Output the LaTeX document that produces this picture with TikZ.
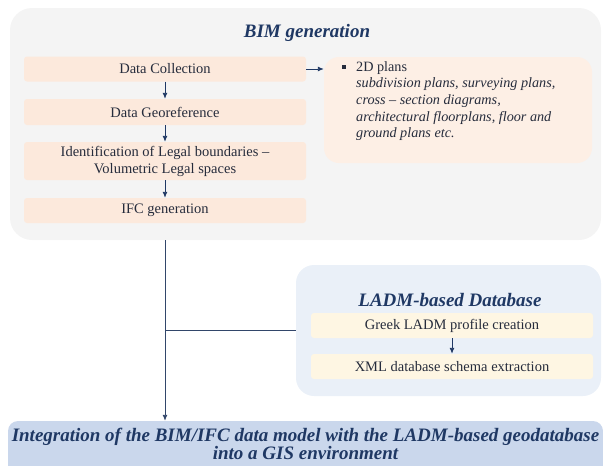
\documentclass[tikz,border=0pt]{standalone}
\usepackage{fontspec}
\setmainfont{Liberation Serif}
\usepackage{tikz}
\usetikzlibrary{arrows.meta, positioning, calc}
\definecolor{navy}{HTML}{1F3864}
\definecolor{ink}{HTML}{262C3C}
\definecolor{panelgrey}{HTML}{F4F4F4}
\definecolor{peach}{HTML}{FCE9DC}
\definecolor{lightpeach}{HTML}{FDEFE5}
\definecolor{paleblue}{HTML}{EAF0F8}
\definecolor{cream}{HTML}{FEF6E3}
\definecolor{midblue}{HTML}{CAD7EC}
\tikzset{
    panel/.style = {draw=none, inner sep=0pt}, % big rounded background boxes
    stepbox/.style = {fill=peach, rounded corners=3pt, minimum width=282pt, align=center, text=ink, font=\fontsize{14.5}{17}\selectfont},
    dbbox/.style = {stepbox, fill=cream},
    title/.style = {text=navy, font=\fontsize{19}{20}\bfseries\itshape\selectfont},
    arr/.style = {-{Latex[length=6pt,width=5pt]}, navy, line width=0.9pt},
    link/.style = {draw=navy!80!gray, line width=0.9pt}
}
\begin{document}
\begin{tikzpicture}[x=1pt, y=-1pt]
    \useasboundingbox (0,0) rectangle (603,466);
    % BIM generation part
    \node (bim) [panel, fill=panelgrey, rounded corners=22pt, minimum width=591pt, minimum height=232pt] at (305.5,124) {};
    \node (bimtitle) [title] at (307,33) {BIM generation};
    \node (collect) [stepbox, minimum height=25pt] at (165,69) {Data Collection};
    \node (georef) [stepbox, minimum height=26pt] at (165,112) {Data Georeference};
    \node (legal) [stepbox, minimum height=38pt] at (165,161) {Identification of Legal boundaries --\\Volumetric Legal spaces};
    \node (ifc) [stepbox, minimum height=25pt] at (165,210.5) {IFC generation};
    \draw [arr] (collect) -- (georef);
    \draw [arr] (georef) -- (legal);
    \draw [arr] (legal) -- (ifc);
    % 2D plans
    \node (plans) [panel, fill=lightpeach, rounded corners=15pt, minimum width=268pt, minimum height=106pt] at (458,110) {};
    \node (planstext) [anchor=north west, align=left, text=ink, inner sep=0pt, font=\fontsize{14.2}{16.7}\selectfont] at (356,61)
        {\llap{\raisebox{2.5pt}{\rule{4pt}{4pt}}\hspace{10pt}}2D plans\\
         \textit{subdivision plans, surveying plans,}\\
         \textit{cross -- section diagrams,}\\
         \textit{architectural floorplans, floor and}\\
         \textit{ground plans etc.}};
    \draw [arr] (collect.east) -- (collect.east -| plans.west);
    % LADM-based Database
    \node (ladm) [panel, fill=paleblue, rounded corners=18pt, minimum width=305pt, minimum height=131pt] at (448.5,330.5) {};
    \node (ladmtitle) [title] at (450,300) {LADM-based Database};
    \node (profile) [dbbox, minimum height=25pt] at (452,325.5) {Greek LADM profile creation};
    \node (schema) [dbbox, minimum height=25pt] at (452,366.5) {XML database schema extraction};
    \draw [arr] (profile) -- (schema);
    % integration (box runs on past the lower edge)
    \fill [midblue] (8,450) rectangle (603,480);
    \node (integ) [panel, fill=midblue, rounded corners=10pt, minimum width=595pt, minimum height=46pt, align=center, title, font=\fontsize{19}{19}\bfseries\itshape\selectfont] at (305.5,444)
        {Integration of the BIM/IFC data model with the LADM-based geodatabase\\[-1pt]into a GIS environment};
    \draw [link] (ladm.west) -- (ladm.west -| ifc.south);
    \draw [arr, navy!80!gray] (bim.south -| ifc.south) -- (integ.north -| ifc.south);
\end{tikzpicture}
\end{document}
